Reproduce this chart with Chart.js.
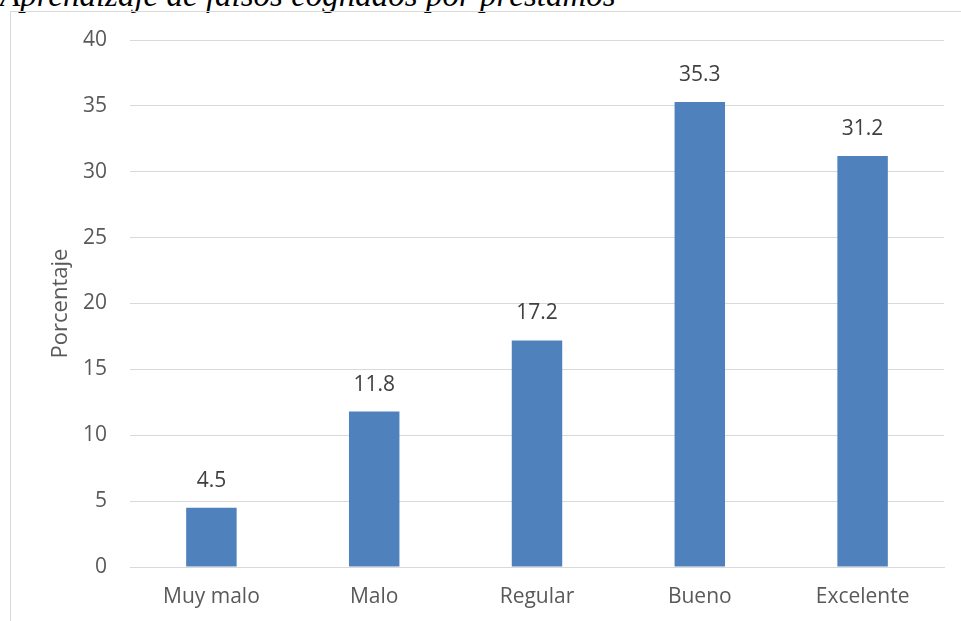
<!DOCTYPE html>
<html>
<head>
<meta charset="utf-8">
<script src="https://cdn.jsdelivr.net/npm/chart.js@4.4.1/dist/chart.umd.min.js"></script>
<style>
    html, body {
        margin: 0;
        padding: 0;
        background: #fff;
        overflow: hidden;
    }
    #wrap {
        position: relative;
        width: 961px;
        height: 621px;
        overflow: hidden;
    }
    #title {
        position: absolute;
        left: 0;
        top: -23px;
        font-family: 'Liberation Serif', serif;
        font-style: italic;
        font-size: 33px;
        color: #000;
        white-space: nowrap;
    }
    #frame {
        position: absolute;
        left: 10px;
        top: 11px;
        width: 1000px;
        height: 700px;
        border: 1px solid #d9d9d9;
    }
    #chart {
        position: absolute;
        left: 0;
        top: 0;
    }
</style>
</head>
<body>
<div id="wrap">
    <div id="title">Aprendizaje de falsos cognados por préstamos</div>
    <div id="frame"></div>
    <canvas id="chart" width="961" height="621"></canvas>
</div>
<script>
const categories = ['Muy malo', 'Malo', 'Regular', 'Bueno', 'Excelente'];
const percentages = [4.5, 11.8, 17.2, 35.3, 31.2];
const yTicks = [0, 5, 10, 15, 20, 25, 30, 35, 40];

const barColor = '#4f81bd';
const fontFamily = "'Open Sans', 'Noto Sans', sans-serif";

// value labels above the bars
const valueLabels = {
    id: 'valueLabels',
    afterDatasetsDraw(chart) {
        const ctx = chart.ctx;
        const meta = chart.getDatasetMeta(0);
        ctx.save();
        ctx.font = '21px ' + fontFamily;
        ctx.fillStyle = '#404040';
        ctx.textAlign = 'center';
        ctx.textBaseline = 'middle';
        meta.data.forEach((bar, i) => {
            ctx.fillText(percentages[i].toFixed(1), bar.x, bar.y - 27);
        });
        ctx.restore();
    }
};

new Chart(document.getElementById('chart'), {
    type: 'bar',

    plugins: [valueLabels],

    data: {
        labels: categories,
        datasets: [{
            label: 'Porcentaje',
            data: percentages,
            backgroundColor: barColor,
            borderWidth: 0,
            categoryPercentage: 0.62,
            barPercentage: 0.5
        }]
    },

    options: {
        responsive: false,
        animation: false,
        layout: {
            padding: { top: 40, right: 17, bottom: 0, left: 0 }
        },
        plugins: {
            legend: { display: false },
            tooltip: { enabled: false }
        },
        scales: {
            x: {
                grid: { display: false, drawTicks: false },
                border: { color: '#d9d9d9', width: 1 },
                ticks: {
                    color: '#595959',
                    font: { family: fontFamily, size: 21 },
                    padding: 17,
                    maxRotation: 0
                },
                afterFit(scale) {
                    scale.height = 54;
                }
            },
            y: {
                min: 0,
                max: 40,
                grid: { color: '#d9d9d9', drawTicks: false },
                border: { display: false },
                afterBuildTicks(scale) {
                    scale.ticks = yTicks.map(v => ({ value: v }));
                },
                ticks: {
                    color: '#595959',
                    font: { family: fontFamily, size: 21 },
                    padding: 23
                },
                title: {
                    display: true,
                    text: 'Porcentaje',
                    color: '#595959',
                    font: { family: fontFamily, size: 22 },
                    padding: { top: 48, bottom: 0 }
                },
                afterFit(scale) {
                    scale.width = 130;
                }
            }
        }
    }
});
</script>
</body>
</html>
